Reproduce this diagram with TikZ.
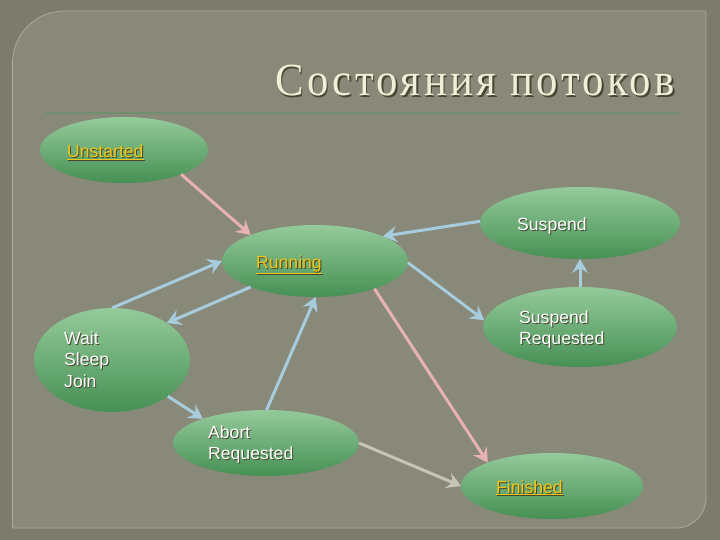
\documentclass[tikz,border=0pt]{standalone}
\usepackage{fontspec}
\setmainfont{Liberation Sans}
\newfontfamily\titlefont[FakeStretch=0.93,LetterSpace=7.5]{Liberation Serif}
\usetikzlibrary{shapes.geometric,arrows.meta}
\definecolor{outerbg}{RGB}{124,124,108}
\definecolor{panelbg}{RGB}{136,137,121}
\definecolor{panelline}{RGB}{172,172,152}
\definecolor{ruleline}{RGB}{110,142,110}
\definecolor{titlecol}{RGB}{240,238,214}
\definecolor{shadowcol}{RGB}{70,70,50}
\definecolor{ellTop}{RGB}{148,202,154}
\definecolor{ellBot}{RGB}{70,144,84}
\definecolor{pinkarr}{RGB}{232,178,178}
\definecolor{bluearr}{RGB}{166,204,222}
\definecolor{grayarr}{RGB}{200,196,182}
\definecolor{linkyellow}{RGB}{242,198,18}
\newcommand{\shd}[1]{\rlap{\textcolor{shadowcol}{\kern1pt\raisebox{-1pt}{#1}}}#1}
\newcommand{\lnk}[1]{\shd{\underline{#1}}}
\tikzset{
  state/.style={ellipse, inner sep=0pt, outer sep=0pt, top color=ellTop, bottom color=ellBot, draw=none},
  lbl/.style={anchor=base west, inner sep=0pt, text=white, font=\fontsize{17.6}{21.5}\selectfont},
  lnklbl/.style={lbl, text=linkyellow},
  arr/.style={line width=3pt, -{Stealth[length=14pt,width=16pt,inset=5pt]}},
  pinkline/.style={arr, draw=pinkarr},
  blueline/.style={arr, draw=bluearr},
  grayline/.style={arr, draw=grayarr}
}
\begin{document}
\begin{tikzpicture}[x=1pt,y=-1pt]
\useasboundingbox (0,0) rectangle (720,540);
\fill[outerbg] (0,0) rectangle (720,540);
\draw[panelline, fill=panelbg, line width=0.8pt]
  (12.5,528) -- (12.5,63) arc[start angle=180, end angle=90, x radius=52, y radius=-52]
  -- (706,11) -- (706,498) arc[start angle=0, end angle=-90, x radius=30, y radius=-30] -- cycle;
\draw[ruleline, line width=2.5pt] (45,113) -- (680,113);
\node[anchor=base east, inner sep=0pt, text=titlecol, font=\titlefont\fontsize{46}{50}\selectfont] (title) at (675,96)
  {\rlap{\textcolor{shadowcol}{\kern1.5pt\raisebox{-1.5pt}{Состояния потоков}}}Состояния потоков};

% states
\node[state, minimum width=168pt, minimum height=66pt] (u) at (124,150) {};
\node[state, minimum width=186pt, minimum height=72pt] (r) at (315,261) {};
\node[state, minimum width=200pt, minimum height=72pt] (s) at (580,223) {};
\node[state, minimum width=194pt, minimum height=80pt] (q) at (580,327) {};
\node[state, minimum width=156pt, minimum height=104pt] (w) at (112,360) {};
\node[state, minimum width=186pt, minimum height=66pt] (a) at (266,443) {};
\node[state, minimum width=182pt, minimum height=66pt] (f) at (552,486) {};

% labels
\node[lnklbl] (ut) at (67,158) {\lnk{Unstarted}};
\node[lnklbl] (rt) at (256,268) {\lnk{Running}};
\node[lbl] (st) at (517,230) {\shd{Suspend}};
\node[lbl] (qt) at (519,323) {\vtop{\baselineskip=21.5pt\hbox{\shd{Suspend}}\hbox{\shd{Requested}}}};
\node[lbl] (wt) at (64,344) {\vtop{\baselineskip=21.5pt\hbox{\shd{Wait}}\hbox{\shd{Sleep}}\hbox{\shd{Join}}}};
\node[lbl] (at) at (208,438) {\vtop{\baselineskip=21.5pt\hbox{\shd{Abort}}\hbox{\shd{Requested}}}};
\node[lnklbl] (ft) at (496,493) {\lnk{Finished}};

% connectors
\draw[pinkline] (u.-23) -- (r.158);
\draw[blueline] (s.179) -- (r.20);
\draw[blueline] (r.-1) -- (q.176);
\draw[blueline] (q.90) -- (s.-90);
\draw[blueline] (w.90) -- (r.180);
\draw[blueline] (r.202) -- (w.34);
\draw[blueline] (w.-33) -- (a.159);
\draw[blueline] (a.89) -- (r.-89);
\draw[grayline] (a.0) -- (f.180);
\draw[pinkline] (r.-25) -- (f.160);
\end{tikzpicture}
\end{document}
